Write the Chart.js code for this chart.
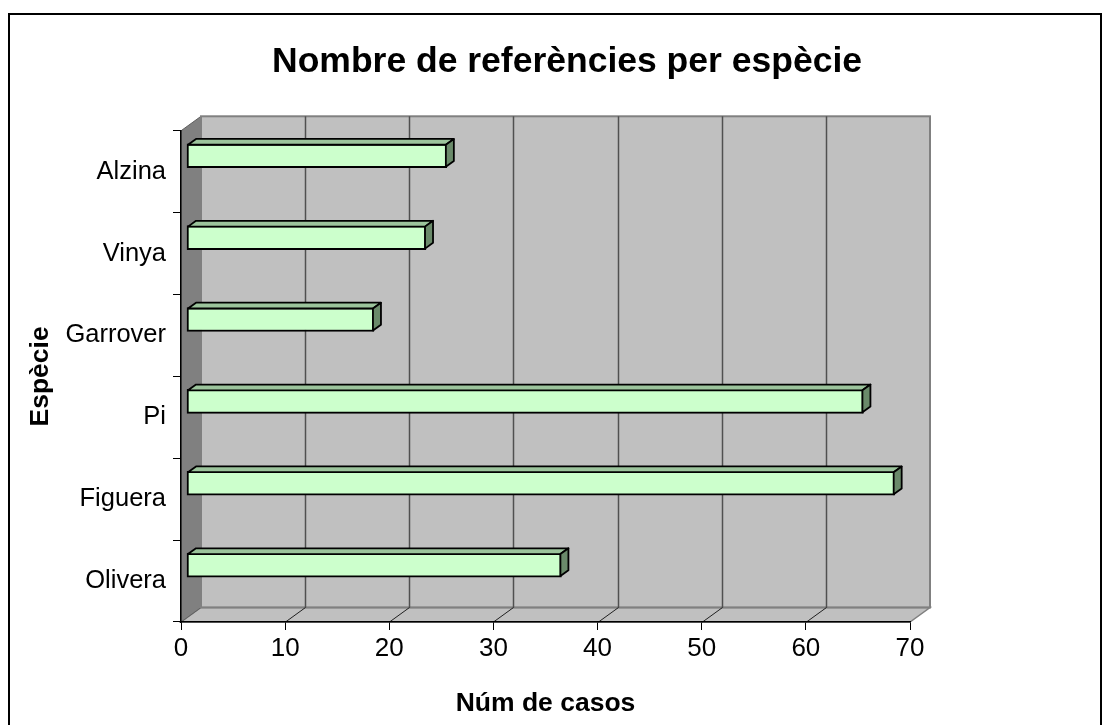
<!DOCTYPE html>
<html>
<head>
<meta charset="utf-8">
<script src="https://cdn.jsdelivr.net/npm/chart.js@4/dist/chart.umd.min.js"></script>
<style>
html,body{margin:0;padding:0;background:#ffffff;}
canvas{display:block;}
</style>
</head>
<body>
<canvas id="c" width="1110" height="725"></canvas>
<script>
// ---- data ----
const categories = ['Alzina', 'Vinya', 'Garrover', 'Pi', 'Figuera', 'Olivera'];
const values = [25, 23, 18, 65, 68, 36];
const xMin = 0;
const xMax = 70;
const xStep = 10;
const chartTitle = 'Nombre de referències per espècie';
const xTitle = 'Núm de casos';
const yTitle = 'Espècie';

// ---- 3D look (styles only) ----
const DEPTH = { dx: 20, dy: -14.5, barFront: 0.275, barDepth: 0.4 };
const FONT = '"Liberation Sans", Arial, sans-serif';

const box3d = {
  id: 'box3d',
  beforeDraw(chart) {
    const { ctx, chartArea: a, scales: { x } } = chart;
    const dx = DEPTH.dx, dy = DEPTH.dy;
    ctx.save();
    // page background + outer frame
    ctx.fillStyle = '#ffffff';
    ctx.fillRect(0, 0, chart.width, chart.height);
    ctx.strokeStyle = '#000000';
    ctx.lineWidth = 2;
    ctx.strokeRect(9, 14, 1092, 760);

    // back wall
    ctx.fillStyle = '#c0c0c0';
    ctx.fillRect(a.left + dx, a.top + dy, a.right - a.left, a.bottom - a.top);
    // floor
    ctx.beginPath();
    ctx.moveTo(a.left, a.bottom);
    ctx.lineTo(a.right, a.bottom);
    ctx.lineTo(a.right + dx, a.bottom + dy);
    ctx.lineTo(a.left + dx, a.bottom + dy);
    ctx.closePath();
    ctx.fillStyle = '#c0c0c0';
    ctx.fill();
    ctx.strokeStyle = '#808080';
    ctx.lineWidth = 1.5;
    ctx.stroke();
    // left wall
    ctx.beginPath();
    ctx.moveTo(a.left, a.top);
    ctx.lineTo(a.left + dx, a.top + dy);
    ctx.lineTo(a.left + dx, a.bottom + dy);
    ctx.lineTo(a.left, a.bottom);
    ctx.closePath();
    ctx.fillStyle = '#808080';
    ctx.fill();
    ctx.strokeStyle = '#606060';
    ctx.lineWidth = 1;
    ctx.stroke();

    // back wall outline
    ctx.strokeStyle = '#808080';
    ctx.lineWidth = 2;
    ctx.strokeRect(a.left + dx, a.top + dy, a.right - a.left, a.bottom - a.top);

    // gridlines on the back wall and diagonals on the floor
    x.ticks.forEach(t => {
      if (t.value <= xMin || t.value >= xMax) return;
      const px = Math.round(x.getPixelForValue(t.value)) + 0.5;
      ctx.strokeStyle = '#505050';
      ctx.lineWidth = 1.5;
      ctx.beginPath();
      ctx.moveTo(px + dx, a.top + dy);
      ctx.lineTo(px + dx, a.bottom + dy);
      ctx.stroke();
      ctx.strokeStyle = '#202020';
      ctx.lineWidth = 1;
      ctx.beginPath();
      ctx.moveTo(px, a.bottom);
      ctx.lineTo(px + dx, a.bottom + dy);
      ctx.stroke();
    });
    ctx.restore();
  },
  beforeDatasetDraw(chart, args) {
    const ctx = chart.ctx;
    ctx.save();
    ctx.translate(DEPTH.dx * DEPTH.barFront, DEPTH.dy * DEPTH.barFront);
  },
  afterDatasetDraw(chart, args) {
    const ctx = chart.ctx;
    ctx.restore();
    if (args.index !== 0) return;
    const ox = DEPTH.dx * DEPTH.barFront, oy = DEPTH.dy * DEPTH.barFront;
    const bdx = DEPTH.dx * DEPTH.barDepth, bdy = DEPTH.dy * DEPTH.barDepth;
    ctx.save();
    ctx.lineWidth = 1.8;
    ctx.lineJoin = 'round';
    ctx.strokeStyle = '#000000';
    args.meta.data.forEach(el => {
      const p = el.getProps(['x', 'y', 'base', 'height'], true);
      const x0 = p.base + ox, x1 = p.x + ox;
      const yt = p.y - p.height / 2 + oy + 1, yb = p.y + p.height / 2 + oy - 1;
      // top face
      ctx.beginPath();
      ctx.moveTo(x0 + 1, yt);
      ctx.lineTo(x1 - 1, yt);
      ctx.lineTo(x1 - 1 + bdx, yt + bdy);
      ctx.lineTo(x0 + 1 + bdx, yt + bdy);
      ctx.closePath();
      ctx.fillStyle = '#9cc49c';
      ctx.fill();
      ctx.stroke();
      // side face
      ctx.beginPath();
      ctx.moveTo(x1 - 1, yt);
      ctx.lineTo(x1 - 1 + bdx, yt + bdy);
      ctx.lineTo(x1 - 1 + bdx, yb + bdy);
      ctx.lineTo(x1 - 1, yb);
      ctx.closePath();
      ctx.fillStyle = '#6a8a6a';
      ctx.fill();
      ctx.stroke();
    });
    ctx.restore();
  }
};

new Chart(document.getElementById('c'), {
  type: 'bar',
  data: {
    labels: categories,
    datasets: [
      {
        label: xTitle,
        data: values,
        backgroundColor: '#ccffcc',
        borderColor: '#000000',
        borderWidth: 2,
        borderSkipped: false,
        barThickness: 24,
        clip: false
      },
      {
        label: '',
        data: categories.map(() => null),
        backgroundColor: 'rgba(0,0,0,0)',
        borderWidth: 0,
        barThickness: 24
      }
    ]
  },
  options: {
    indexAxis: 'y',
    responsive: false,
    animation: false,
    devicePixelRatio: 1,
    layout: { padding: { left: 24, right: 0, top: 0, bottom: 0 } },
    plugins: {
      legend: { display: false },
      tooltip: { enabled: false },
      title: {
        display: true,
        text: chartTitle,
        color: '#000000',
        font: { family: FONT, size: 35.5, weight: 'bold', lineHeight: 1.2 },
        padding: { top: 41, bottom: 47.2 }
      }
    },
    scales: {
      x: {
        type: 'linear',
        min: xMin,
        max: xMax,
        ticks: { stepSize: xStep, color: '#000000', font: { family: FONT, size: 26 }, padding: 3 },
        grid: { drawOnChartArea: false, drawTicks: true, tickLength: 8, color: '#000000', lineWidth: 1 },
        border: { display: true, color: '#000000', width: 1.5 },
        title: { display: true, text: xTitle, color: '#000000', font: { family: FONT, size: 26.5, weight: 'bold', lineHeight: 1.2 }, padding: { top: 0, bottom: 5 } },
        afterFit(s) { s.height = 103; }
      },
      y: {
        type: 'category',
        offset: true,
        ticks: { color: '#000000', font: { family: FONT, size: 25.5 }, padding: 7 },
        grid: { offset: true, drawOnChartArea: false, drawTicks: true, tickLength: 8, color: '#000000', lineWidth: 1 },
        border: { display: true, color: '#000000', width: 1.5 },
        title: { display: true, text: yTitle, color: '#000000', font: { family: FONT, size: 26.5, weight: 'bold', lineHeight: 1.2 }, padding: { top: 1, bottom: 0 } },
        afterFit(s) { s.width = 157; }
      },
      yRight: {
        type: 'linear',
        position: 'right',
        display: true,
        ticks: { display: false },
        grid: { display: false },
        border: { display: false },
        afterFit(s) { s.width = 200; }
      }
    }
  },
  plugins: [box3d]
});
</script>
</body>
</html>
